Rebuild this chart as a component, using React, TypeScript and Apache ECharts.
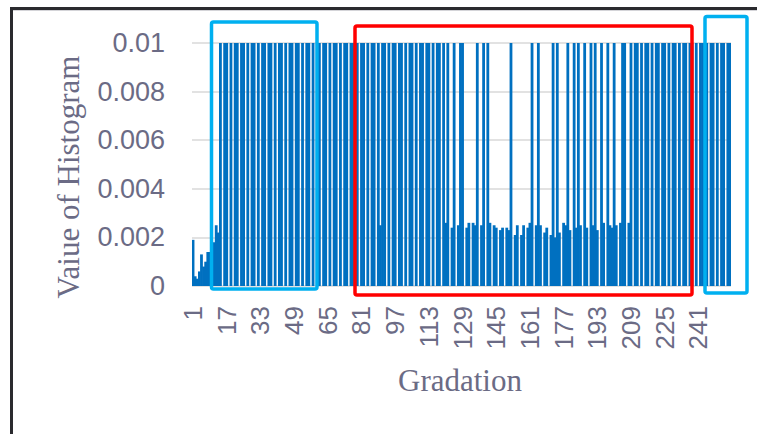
import React, { useEffect, useRef } from "react";
import * as echarts from "echarts";

// Gradation levels 1..256
const gradations: string[] = Array.from({ length: 256 }, (_, i) => String(i + 1));

// Histogram values (tall bars reach the 0.01 ceiling)
const lowStart = [0.0019, 0.0004, 0.0003, 0.0006, 0.0013, 0.0008, 0.001, 0.0014, 0.0014, 0.0016, 0.0018, 0.0025, 0.0022]; // 1–13
const denseLeft = [
  0.01, 0, 0.01, 0.01, 0, 0.01, 0, 0.01, 0.01, 0, // 14–23
  0.01, 0.01, 0, 0.01, 0, 0.01, 0.01, 0, 0.01, 0, // 24–33
  0.01, 0.01, 0, 0.01, 0.01, 0, 0.01, 0, 0.01, 0.01, // 34–43
  0, 0.01, 0, 0.01, 0.01, 0, 0.01, 0.01, 0, 0.01, // 44–53
  0, 0.01, 0.01, 0, 0.01, 0, 0.01, 0.01, 0, 0.01, // 54–63
  0.01, 0, 0.01, 0, 0.01, 0.01, 0, 0.01, 0, 0.01, // 64–73
  0.01, 0, 0.01, 0.01, 0, 0.01, 0, 0.01, 0.01, 0, // 74–83
  0.01, 0, 0.01, 0.01, 0, 0.01, 0.0025, 0.01, 0.01, 0, // 84–93
  0.01, 0, 0.01, 0.01, 0, 0.01, 0.01, 0, 0.01, 0, // 94–103
  0.01, 0.01, 0, 0.01, 0, 0.01, 0.01, 0, 0.01, 0.01, // 104–113
  0, 0.01, 0, 0.01, 0.01, 0, 0.01, // 114–120
];
const middleLow = [
  0.0026, 0.01, 0, 0.0024, 0.01, 0, 0.0025, 0.01, 0.01, 0, // 121–130
  0.0024, 0.0026, 0, 0.0026, 0.0025, 0.01, 0, 0.0025, 0.01, 0, // 131–140
  0.01, 0.0026, 0, 0.0025, 0.0024, 0, 0.0023, 0.0024, 0, 0.0024, // 141–150
  0.0023, 0.01, 0, 0.0021, 0.0025, 0, 0.0021, 0.0025, 0, 0.0024, // 151–160
  0.0026, 0.01, 0, 0.0025, 0.01, 0.0025, 0, 0.0022, 0.0024, 0, // 161–170
  0.0021, 0.01, 0.002, 0.01, 0.0022, 0, 0.0026, 0.0025, 0.01, 0.0023, // 171–180
  0, 0.01, 0.0024, 0.01, 0.0025, 0, 0.01, 0.0024, 0, 0.01, // 181–190
  0.0025, 0.01, 0.0023, 0, 0.01, 0.0026, 0, 0.01, 0.0025, 0.0024, // 191–200
  0.01, 0.0025, 0, 0.0026, // 201–204
];
const denseRight = [
  0.01, 0.01, 0, 0.0026, 0.01, 0, 0.01, 0.01, 0, 0.01, // 205–214
  0, 0.01, 0.01, 0, 0.01, 0, 0.01, 0.01, 0, 0.01, // 215–224
  0.01, 0, 0.01, 0, 0.01, 0.01, 0, 0.01, 0, 0.01, // 225–234
  0.01, 0, 0.01, 0.01, 0, 0.01, 0, 0.01, 0.01, 0, // 235–244
  0.01, 0, 0.01, 0.01, 0, 0.01, 0, 0.01, 0.01, 0, // 245–254
  0.01, 0.01, // 255–256
];
const histValues = [...lowStart, ...denseLeft, ...middleLow, ...denseRight];

const yMin = 0;
const yMax = 0.01;
const yStep = 0.002;

const labelColor = "#6b6b85";

export default function App() {
  const ref = useRef<HTMLDivElement>(null);

  useEffect(() => {
    if (!ref.current) return;
    const chart = echarts.init(ref.current, undefined, { renderer: "svg" });
    chart.setOption({
      animation: false,
      backgroundColor: "#ffffff",
      grid: { left: 192, right: 26, top: 43, bottom: 148, containLabel: false },
      xAxis: {
        type: "category",
        data: gradations,
        axisLine: { show: false },
        axisTick: { show: false },
        axisLabel: {
          interval: 15,
          rotate: 90,
          margin: 20,
          fontSize: 26,
          fontFamily: "Liberation Sans, Arial, sans-serif",
          color: labelColor,
        },
      },
      yAxis: {
        type: "value",
        min: yMin,
        max: yMax,
        interval: yStep,
        axisLine: { show: false },
        axisTick: { show: false },
        splitLine: { lineStyle: { color: "#d9d9d9", width: 1.5 } },
        axisLabel: {
          margin: 27,
          fontSize: 27,
          fontFamily: "Liberation Sans, Arial, sans-serif",
          color: labelColor,
          formatter: (v: number) => String(parseFloat(v.toFixed(4))),
        },
      },
      series: [
        {
          type: "bar",
          data: histValues,
          barWidth: 2.8,
          itemStyle: { color: "#0070C0" },
          clip: true,
        },
      ],
      graphic: [
        // frame edges
        { type: "line", shape: { x1: 11.5, y1: 7, x2: 11.5, y2: 434 }, style: { stroke: "#2a2a2e", lineWidth: 3 } },
        { type: "line", shape: { x1: 10, y1: 8.5, x2: 757, y2: 8.5 }, style: { stroke: "#2a2a2e", lineWidth: 3 } },
        { type: "line", shape: { x1: 13, y1: 10.5, x2: 757, y2: 10.5 }, style: { stroke: "#d4d4d8", lineWidth: 1 } },
        // axis titles
        {
          type: "text",
          x: 68,
          y: 177,
          rotation: Math.PI / 2,
          style: {
            text: "Vaiue of Histogram",
            font: "31px 'Liberation Serif', 'Times New Roman', serif",
            fill: labelColor,
            textAlign: "center",
            textVerticalAlign: "middle",
          },
        },
        {
          type: "text",
          x: 460,
          y: 380,
          style: {
            text: "Gradation",
            font: "31px 'Liberation Serif', 'Times New Roman', serif",
            fill: labelColor,
            textAlign: "center",
            textVerticalAlign: "middle",
          },
        },
        // highlight boxes
        {
          type: "rect",
          shape: { x: 211.5, y: 22, width: 105.5, height: 267, r: 2 },
          style: { fill: "none", stroke: "#00B0F0", lineWidth: 3.5 },
          z: 10,
        },
        {
          type: "rect",
          shape: { x: 355, y: 26, width: 337, height: 269, r: 2 },
          style: { fill: "none", stroke: "#FF0000", lineWidth: 3.5 },
          z: 10,
        },
        {
          type: "rect",
          shape: { x: 705, y: 16.5, width: 42, height: 276.5, r: 2 },
          style: { fill: "none", stroke: "#00B0F0", lineWidth: 3.5 },
          z: 10,
        },
      ],
    });
    return () => chart.dispose();
  }, []);

  return (
    <div
      ref={ref}
      style={{ position: "fixed", left: 0, top: 0, width: 757, height: 434, background: "#fff" }}
    />
  );
}
